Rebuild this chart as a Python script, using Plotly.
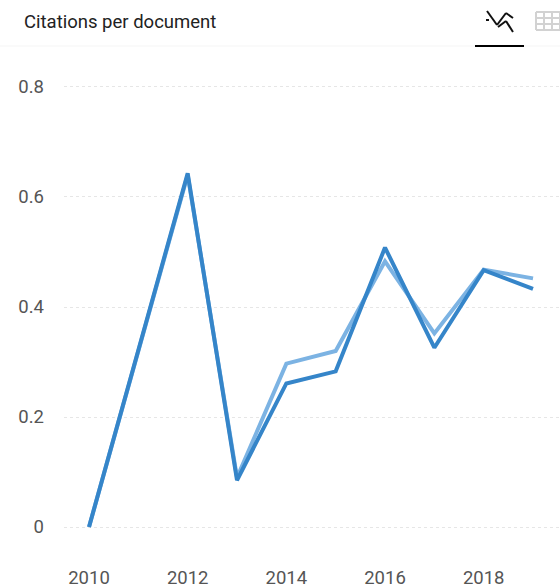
import plotly.graph_objects as go

years = [2010, 2011, 2012, 2013, 2014, 2015, 2016, 2017, 2018, 2019]
light_values = [0.0, 0.32, 0.64, 0.09, 0.297, 0.32, 0.483, 0.352, 0.468, 0.452]
dark_values = [0.0, 0.32, 0.643, 0.085, 0.261, 0.283, 0.508, 0.326, 0.467, 0.433]
y_ticks = [0, 0.2, 0.4, 0.6, 0.8]
y_tick_labels = ["0", "0.2", "0.4", "0.6", "0.8"]
x_ticks = [2010, 2012, 2014, 2016, 2018]
title_text = "Citations per document"

W, H = 560, 585
L, R, T, B = 64, 0, 47, 30


def px(x):
    return (x - L) / (W - L - R)


def py(y):
    return 1 - (y - T) / (H - T - B)


def segment(x0, y0, x1, y1, color, width):
    return dict(type="line", xref="paper", yref="paper", x0=px(x0), y0=py(y0), x1=px(x1), y1=py(y1),
                line=dict(color=color, width=width), layer="above")


ICON = "#111111"
GRID_ICON = "#d2d2d2"
shapes = [
    segment(0, 46, 560, 46, "#f5f5f5", 1),
    segment(475, 46, 524, 46, "#000000", 2),
    segment(487, 11, 497, 25, ICON, 2),
    segment(497, 25, 506, 13, ICON, 2),
    segment(506, 13, 513, 18, ICON, 2),
    segment(498, 27, 506, 21, ICON, 2),
    segment(506, 21, 513, 32, ICON, 2),
    segment(486, 20, 489, 20, ICON, 2),
]
for gx in (536, 544, 552, 560):
    shapes.append(segment(gx, 12, gx, 30, GRID_ICON, 2))
for gy in (12, 18, 24, 30):
    shapes.append(segment(536, gy, 560, gy, GRID_ICON, 2))

fig = go.Figure()
fig.add_trace(go.Scatter(x=years, y=light_values, mode="lines", line=dict(color="#7cb3e3", width=4), hoverinfo="skip"))
fig.add_trace(go.Scatter(x=years, y=dark_values, mode="lines", line=dict(color="#3585c9", width=4), hoverinfo="skip"))

fig.update_layout(
    width=W, height=H, autosize=False,
    margin=dict(l=L, r=R, t=T, b=B, pad=0, autoexpand=False),
    paper_bgcolor="white", plot_bgcolor="white", showlegend=False,
    font=dict(family="Roboto", color="#555555", size=18.5),
    shapes=shapes,
    annotations=[dict(text=title_text, xref="paper", yref="paper", x=px(22), y=py(22), xanchor="left", yanchor="middle",
                      showarrow=False, font=dict(family="Roboto", size=18.5, color="#222222"))],
    xaxis=dict(range=[2009.493, 2019.547], tickvals=x_ticks, showgrid=False, zeroline=False, showline=False,
               automargin=False, ticks="", ticklabelstandoff=9, tickfont=dict(size=18.5, color="#555555")),
    yaxis=dict(range=[-0.0509, 0.8727], tickvals=y_ticks, ticktext=y_tick_labels, showgrid=True,
               automargin=False, gridcolor="#e6e6e6", griddash="dot", gridwidth=1, zeroline=False, showline=False,
               ticks="", ticklabelstandoff=19, tickfont=dict(size=18.5, color="#555555")),
)

fig.write_html("out.html", config=dict(displayModeBar=False),
               post_script="document.body.style.margin='0';document.body.style.overflow='hidden';")
